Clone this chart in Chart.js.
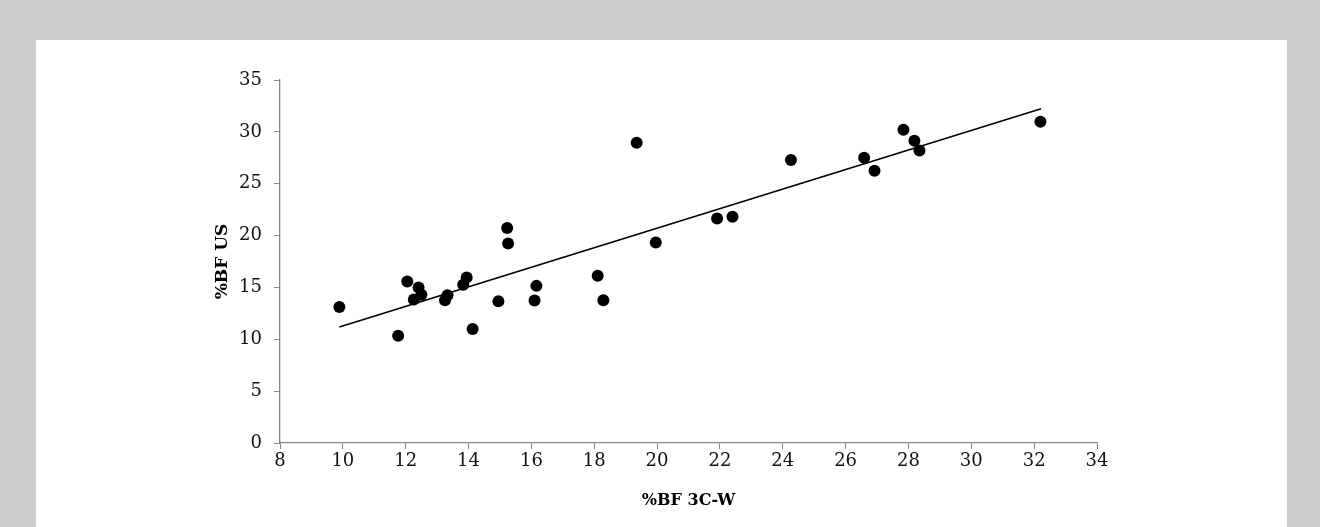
<!DOCTYPE html>
<html lang="en">
<head>
  <meta charset="UTF-8" />
  <title>%BF US vs %BF 3C-W</title>
  <script src="https://cdn.jsdelivr.net/npm/chart.js"></script>
  <style>
    html, body { margin: 0; padding: 0; background: #cccccc; overflow: hidden; }
    .panel { position: absolute; left: 36px; top: 40px; width: 1251px; height: 487px; background: #ffffff; }
  </style>
</head>
<body>

<div class="panel">
  <canvas id="chartBF" width="1251" height="487"></canvas>
</div>

<script>
  // %BF 3C-W (x) vs %BF US (y)
  const bf3cw = [9.89, 11.76, 12.05, 12.26, 12.41, 12.50, 13.25, 13.33, 13.83, 13.94,
                 14.13, 14.95, 15.23, 15.26, 16.10, 16.16, 18.11, 18.29, 19.35, 19.96,
                 21.91, 22.40, 24.26, 26.59, 26.92, 27.84, 28.19, 28.35, 32.20];
  const bfUS   = [13.12, 10.33, 15.57, 13.84, 15.00, 14.29, 13.77, 14.25, 15.25, 15.96,
                  11.00, 13.67, 20.72, 19.24, 13.74, 15.15, 16.12, 13.77, 28.95, 19.34,
                  21.65, 21.81, 27.28, 27.50, 26.25, 30.20, 29.14, 28.21, 30.98];

  // linear trend line end points
  const trendX = [9.89, 32.22];
  const trendY = [11.19, 32.23];

  const axisColor = '#868686';
  const serif = "'DejaVu Serif', 'Liberation Serif', serif";

  const ctx = document.getElementById('chartBF').getContext('2d');
  new Chart(ctx, {
    type: 'scatter',
    data: {
      datasets: [
        {
          label: '%BF',
          data: bf3cw.map((x, i) => ({ x: x, y: bfUS[i] })),
          backgroundColor: '#000000',
          borderWidth: 0,
          pointRadius: 6,
          pointHoverRadius: 6
        },
        {
          label: 'trend',
          data: trendX.map((x, i) => ({ x: x, y: trendY[i] })),
          showLine: true,
          borderColor: '#000000',
          borderWidth: 1.7,
          pointRadius: 0,
          fill: false
        }
      ]
    },
    options: {
      responsive: false,
      animation: false,
      layout: { padding: { left: 172, top: 40, right: 190, bottom: 13 } },
      plugins: {
        legend: { display: false },
        tooltip: { enabled: false }
      },
      scales: {
        x: {
          type: 'linear',
          min: 8,
          max: 34,
          ticks: { stepSize: 2, color: '#111', padding: 2, font: { family: serif, size: 18 } },
          grid: { drawOnChartArea: false, drawTicks: true, tickLength: 6, color: axisColor },
          border: { color: axisColor, width: 1.3 },
          title: { display: true, text: '%BF 3C-W', color: '#000', font: { family: serif, size: 16, weight: 'bold' } },
          afterFit: scale => { scale.height = 71; }
        },
        y: {
          type: 'linear',
          min: 0,
          max: 35,
          ticks: { stepSize: 5, color: '#111', padding: 12, font: { family: serif, size: 18 } },
          grid: { drawOnChartArea: false, drawTicks: true, tickLength: 6, color: axisColor },
          border: { color: axisColor, width: 1.3 },
          title: { display: true, text: '%BF US', color: '#000', font: { family: serif, size: 17, weight: 'bold' } },
          afterFit: scale => { scale.width = 72; }
        }
      }
    }
  });
</script>
</body>
</html>
